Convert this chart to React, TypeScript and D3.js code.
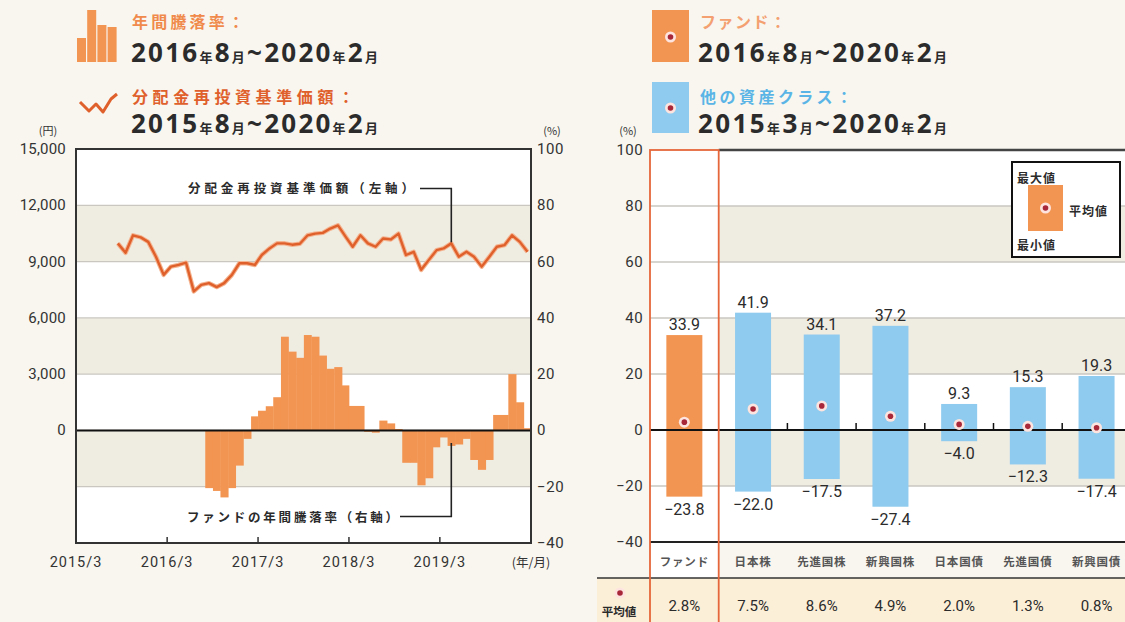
import React, { useRef, useEffect } from 'react';
import * as d3 from 'd3';

const W = 1125;
const H = 622;

// 分配金再投資基準価額（円）2015年8月〜2020年2月 月次
const navValues = [
  9970, 9470, 10400, 10290, 10050, 9260, 8290, 8730, 8820, 8940,
  7410, 7760, 7850, 7640, 7850, 8290, 8910, 8910, 8820, 9350,
  9700, 9970, 9970, 9900, 9950, 10400, 10490, 10530, 10760, 10930,
  10320, 9790, 10400, 9970, 9790, 10230, 10180, 10490, 9350, 9520,
  8560, 9090, 9610, 9700, 9970, 9260, 9520, 9260, 8730, 9260,
  9790, 9880, 10400, 10050, 9520,
];

// ファンドの年間騰落率（%）2016年8月〜2020年2月
const fundReturns = [
  -20.5, -21.5, -23.8, -20.5, -12.5, -3, 5, 7, 8.6, 11.8,
  33.3, 28, 25.8, 33.9, 33.3, 26.6, 21.9, 22.5, 16, 8.7,
  8.7, -0.5, -0.8, 3.5, 2.5, 0.5, -11.5, -11.5, -19.5, -17,
  -6, -2.5, -5.5, -5, -3, -10.5, -14, -10.5, 5.5, 5.5,
  20, 10, 0.8,
];

const leftYTicks = [0, 3000, 6000, 9000, 12000, 15000];
const pctTicks = [-40, -20, 0, 20, 40, 60, 80, 100];
const xTickYears = [2015, 2016, 2017, 2018, 2019];

// 他の資産クラスとの騰落率の比較
const categories = ['ファンド', '日本株', '先進国株', '新興国株', '日本国債', '先進国債', '新興国債'];
const maxValues = [33.9, 41.9, 34.1, 37.2, 9.3, 15.3, 19.3];
const minValues = [-23.8, -22.0, -17.5, -27.4, -4.0, -12.3, -17.4];
const meanValues = [2.8, 7.5, 8.6, 4.9, 2.0, 1.3, 0.8];

const JP = "'Noto Sans CJK JP', 'Noto Sans', sans-serif";
const NUM = "Roboto, 'Noto Sans', sans-serif";
const BG = '#f8f6ef';
const BAND = '#efece2';
const GRID = '#c9c7c0';
const DARK = '#2b2b2b';
const ORANGE = '#f39552';
const BLUE = '#8fcbee';
const LINE = '#e0602c';

const fmtPct = (v: number) => (v < 0 ? '−' : '') + d3.format('.1f')(Math.abs(v));
const fmtTick = (v: number) => (v < 0 ? '−' : '') + Math.abs(v);
// 網掛けする帯（下端の目盛が 20 の奇数倍のもの）
const shaded = pctTicks.filter(t => t < 100 && Math.abs(t / 20) % 2 === 1);

// 「2016年8月~2020年2月」のような期間表記
function period(g: any, x: number, y: number, p: string[], width: number) {
  const t = g.append('text').attr('x', x).attr('y', y)
    .attr('fill', DARK).attr('font-weight', 700)
    .attr('textLength', width).attr('lengthAdjust', 'spacing');
  const parts: [string, boolean][] = [
    [p[0], true], ['年', false], [p[1], true], ['月', false], ['~', true],
    [p[2], true], ['年', false], [p[3], true], ['月', false],
  ];
  parts.forEach(([s, big]) => {
    t.append('tspan').text(s)
      .attr('font-family', big ? "'Noto Sans', sans-serif" : JP)
      .attr('font-size', big ? 26 : 13);
  });
}

function marker(g: any, cx: number, cy: number) {
  g.append('circle').attr('cx', cx).attr('cy', cy).attr('r', 5.5).attr('fill', '#fde4df');
  g.append('circle').attr('cx', cx).attr('cy', cy).attr('r', 2.8).attr('fill', '#a8283a');
}

export default function App() {
  const ref = useRef<SVGSVGElement>(null);

  useEffect(() => {
    const svg = d3.select(ref.current);
    svg.selectAll('*').remove();
    svg.append('rect').attr('width', W).attr('height', H).attr('fill', BG);

    // ---------------- 左：基準価額と年間騰落率 ----------------
    const L = { left: 76, right: 531, top: 149, bottom: 543 };
    const x = d3.scaleTime()
      .domain([new Date(2015, 2, 1), new Date(2020, 2, 1)])
      .range([L.left, L.right]);
    const yL = d3.scaleLinear().domain([-6000, 15000]).range([L.bottom, L.top]);
    const yR = d3.scaleLinear().domain([-40, 100]).range([L.bottom, L.top]);
    const navDates = d3.timeMonth.range(new Date(2015, 7, 1), new Date(2020, 2, 1));
    const fundDates = d3.timeMonth.range(new Date(2016, 7, 1), new Date(2020, 2, 1));
    const mid = (d: Date) => x(d3.timeDay.offset(d, 15));

    const left = svg.append('g');
    left.append('rect').attr('x', L.left).attr('y', L.top)
      .attr('width', L.right - L.left).attr('height', L.bottom - L.top).attr('fill', '#fff');
    shaded.forEach(t => {
      left.append('rect').attr('x', L.left).attr('width', L.right - L.left)
        .attr('y', yR(t + 20)).attr('height', yR(t) - yR(t + 20)).attr('fill', BAND);
    });
    pctTicks.slice(1, -1).forEach(t => {
      left.append('line').attr('x1', L.left).attr('x2', L.right)
        .attr('y1', yR(t)).attr('y2', yR(t)).attr('stroke', GRID).attr('stroke-width', 1.3);
    });

    // 年間騰落率（右軸）
    left.selectAll('rect.bar').data(fundReturns).enter().append('rect')
      .attr('class', 'bar')
      .attr('x', (d, i) => x(fundDates[i]))
      .attr('width', (d, i) => x(d3.timeMonth.offset(fundDates[i], 1)) - x(fundDates[i]) + 0.4)
      .attr('y', d => yR(Math.max(0, d)))
      .attr('height', d => Math.abs(yR(d) - yR(0)))
      .attr('fill', ORANGE);

    left.append('line').attr('x1', L.left).attr('x2', L.right)
      .attr('y1', yR(0)).attr('y2', yR(0)).attr('stroke', '#111').attr('stroke-width', 2);

    // 分配金再投資基準価額（左軸）
    const navLine = d3.line<number>().x((d, i) => mid(navDates[i])).y(d => yL(d));
    left.append('path').attr('d', navLine(navValues)).attr('fill', 'none')
      .attr('stroke', '#f4b490').attr('stroke-width', 4.5).attr('stroke-linejoin', 'round');
    left.append('path').attr('d', navLine(navValues)).attr('fill', 'none')
      .attr('stroke', LINE).attr('stroke-width', 2.4).attr('stroke-linejoin', 'round');

    // frame
    left.append('rect').attr('x', L.left).attr('y', L.top)
      .attr('width', L.right - L.left).attr('height', L.bottom - L.top)
      .attr('fill', 'none').attr('stroke', '#333').attr('stroke-width', 2);

    leftYTicks.forEach(t => {
      left.append('text').attr('x', 66).attr('y', yL(t) + 5).attr('text-anchor', 'end')
        .attr('font-family', NUM).attr('font-size', 15).attr('fill', '#333')
        .attr('letter-spacing', 0.2).text(d3.format(',')(t));
    });
    pctTicks.forEach(t => {
      left.append('text').attr('x', 537).attr('y', yR(t) + 5)
        .attr('font-family', NUM).attr('font-size', 15).attr('fill', '#333')
        .attr('letter-spacing', 0.6).text(fmtTick(t));
    });
    xTickYears.forEach(yr => {
      const xx = x(new Date(yr, 2, 1));
      if (yr > 2015) {
        left.append('line').attr('x1', xx).attr('x2', xx).attr('y1', L.bottom).attr('y2', L.bottom - 6)
          .attr('stroke', '#333').attr('stroke-width', 1.5);
      }
      left.append('text').attr('x', xx).attr('y', 567).attr('text-anchor', 'middle')
        .attr('font-family', NUM).attr('font-size', 14.5).attr('fill', '#333')
        .attr('letter-spacing', 1).text(`${yr}/3`);
    });
    left.append('text').attr('x', x(new Date(2020, 2, 1))).attr('y', 567).attr('text-anchor', 'middle')
      .attr('font-family', JP).attr('font-size', 12.5).attr('fill', '#333').text('(年/月)');
    left.append('text').attr('x', 48).attr('y', 135).attr('text-anchor', 'middle')
      .attr('font-family', JP).attr('font-size', 11).attr('fill', '#333').text('(円)');
    left.append('text').attr('x', 552).attr('y', 135).attr('text-anchor', 'middle')
      .attr('font-family', JP).attr('font-size', 11).attr('fill', '#333').text('(%)');

    // 注記と引き出し線
    const leadIdx = 44;
    const leadX = mid(navDates[leadIdx]);
    const barIdx = fundDates.findIndex(d => +d === +navDates[leadIdx]);
    left.append('text').attr('x', 188).attr('y', 193)
      .attr('font-family', JP).attr('font-size', 12.5).attr('font-weight', 700).attr('fill', DARK)
      .attr('textLength', 226).attr('lengthAdjust', 'spacing').text('分配金再投資基準価額（左軸）');
    left.append('path').attr('d', `M420,188.5H${leadX}V${yL(navValues[leadIdx]) - 1}`)
      .attr('fill', 'none').attr('stroke', '#222').attr('stroke-width', 1.6);
    left.append('text').attr('x', 187).attr('y', 522)
      .attr('font-family', JP).attr('font-size', 12.5).attr('font-weight', 700).attr('fill', DARK)
      .attr('textLength', 211).attr('lengthAdjust', 'spacing').text('ファンドの年間騰落率（右軸）');
    left.append('path').attr('d', `M400,516.5H${leadX}V${yR(fundReturns[barIdx]) - 3}`)
      .attr('fill', 'none').attr('stroke', '#222').attr('stroke-width', 1.6);

    // 凡例（左）
    const iconBars = [24, 52, 37, 35];
    iconBars.forEach((h, i) => {
      left.append('rect').attr('x', 77 + i * 10.2).attr('y', 62 - h).attr('width', 9)
        .attr('height', h).attr('fill', ORANGE);
    });
    left.append('text').attr('x', 132).attr('y', 28)
      .attr('font-family', JP).attr('font-size', 16).attr('font-weight', 700).attr('fill', '#f08a4c')
      .attr('textLength', 112).attr('lengthAdjust', 'spacing').text('年間騰落率：');
    period(left, 131, 62, ['2016', '8', '2020', '2'], 247);
    const iconLine = [[0, 8], [9, 17], [16, 10], [23, 18], [31, 5], [37, 0]];
    left.append('path').attr('d', d3.line()(iconLine.map(([a, b]) => [80 + a, 94 + b]) as any))
      .attr('fill', 'none').attr('stroke', LINE).attr('stroke-width', 3).attr('stroke-linejoin', 'round');
    left.append('text').attr('x', 132).attr('y', 103)
      .attr('font-family', JP).attr('font-size', 16).attr('font-weight', 700).attr('fill', LINE)
      .attr('textLength', 222).attr('lengthAdjust', 'spacing').text('分配金再投資基準価額：');
    period(left, 131, 133, ['2015', '8', '2020', '2'], 247);

    // ---------------- 右：他の資産クラスとの比較 ----------------
    const R = { left: 650, top: 150, bottom: 542, table: 578 };
    const xb = d3.scaleBand().domain(categories).range([R.left, R.left + 7 * 68.7]);
    const yB = d3.scaleLinear().domain([-40, 100]).range([R.bottom, R.top]);
    const bw = 36;
    const right = svg.append('g');

    right.append('rect').attr('x', R.left).attr('y', R.top).attr('width', W - R.left)
      .attr('height', R.bottom - R.top).attr('fill', '#fff');
    shaded.forEach(t => {
      right.append('rect').attr('x', R.left).attr('width', W - R.left)
        .attr('y', yB(t + 20)).attr('height', yB(t) - yB(t + 20)).attr('fill', BAND);
    });
    right.append('rect').attr('x', R.left).attr('y', R.top).attr('width', xb.step())
      .attr('height', R.table - R.top).attr('fill', '#fff');
    right.append('rect').attr('x', 597).attr('y', R.table).attr('width', W - 597)
      .attr('height', H - R.table).attr('fill', '#fcefd8');
    pctTicks.slice(1, -1).forEach(t => {
      right.append('line').attr('x1', R.left).attr('x2', W)
        .attr('y1', yB(t)).attr('y2', yB(t)).attr('stroke', GRID).attr('stroke-width', 1.3);
    });
    right.append('line').attr('x1', R.left + xb.step()).attr('x2', W)
      .attr('y1', R.top).attr('y2', R.top).attr('stroke', '#444').attr('stroke-width', 2.5);

    categories.forEach((c, i) => {
      const cx = (xb(c) as number) + xb.bandwidth() / 2;
      right.append('rect').attr('x', cx - bw / 2).attr('y', yB(maxValues[i]))
        .attr('width', bw).attr('height', yB(minValues[i]) - yB(maxValues[i]))
        .attr('fill', i === 0 ? ORANGE : BLUE);
    });
    right.append('line').attr('x1', R.left).attr('x2', W)
      .attr('y1', yB(0)).attr('y2', yB(0)).attr('stroke', '#111').attr('stroke-width', 2);
    categories.slice(2).forEach(c => {
      const xx = xb(c) as number;
      right.append('line').attr('x1', xx).attr('x2', xx).attr('y1', yB(0)).attr('y2', yB(0) - 7)
        .attr('stroke', '#111').attr('stroke-width', 1.5);
    });
    right.append('line').attr('x1', R.left).attr('x2', W)
      .attr('y1', R.bottom).attr('y2', R.bottom).attr('stroke', '#222').attr('stroke-width', 2);
    right.append('line').attr('x1', 597).attr('x2', W)
      .attr('y1', R.table).attr('y2', R.table).attr('stroke', '#333').attr('stroke-width', 1.5);

    categories.forEach((c, i) => {
      const cx = (xb(c) as number) + xb.bandwidth() / 2;
      marker(right, cx, yB(meanValues[i]));
      right.append('text').attr('x', cx).attr('y', yB(maxValues[i]) - 5).attr('text-anchor', 'middle')
        .attr('font-family', NUM).attr('font-size', 16).attr('fill', DARK).text(fmtPct(maxValues[i]));
      right.append('text').attr('x', cx).attr('y', yB(minValues[i]) + 18).attr('text-anchor', 'middle')
        .attr('font-family', NUM).attr('font-size', 16).attr('fill', DARK).text(fmtPct(minValues[i]));
      right.append('text').attr('x', cx).attr('y', 566).attr('text-anchor', 'middle')
        .attr('font-family', JP).attr('font-size', 11.5).attr('font-weight', 700).attr('fill', '#555')
        .attr('letter-spacing', 0.8).text(c);
      right.append('text').attr('x', cx).attr('y', 611).attr('text-anchor', 'middle')
        .attr('font-family', NUM).attr('font-size', 15).attr('fill', DARK)
        .text(d3.format('.1f')(meanValues[i]) + '%');
    });

    pctTicks.forEach(t => {
      right.append('text').attr('x', 643).attr('y', yB(t) + 5).attr('text-anchor', 'end')
        .attr('font-family', NUM).attr('font-size', 15).attr('fill', '#333')
        .attr('letter-spacing', 0.4).text(fmtTick(t));
    });
    right.append('text').attr('x', 628).attr('y', 135).attr('text-anchor', 'middle')
      .attr('font-family', JP).attr('font-size', 11).attr('fill', '#333').text('(%)');

    // ファンド列の枠
    right.append('rect').attr('x', R.left).attr('y', R.top).attr('width', xb.step())
      .attr('height', H - R.top + 4).attr('fill', 'none').attr('stroke', '#e5663a').attr('stroke-width', 1.8);

    // 平均値の見出し
    marker(right, 620, 593);
    right.append('text').attr('x', 619).attr('y', 616).attr('text-anchor', 'middle')
      .attr('font-family', JP).attr('font-size', 11.5).attr('font-weight', 700).attr('fill', DARK).text('平均値');

    // 凡例ボックス
    right.append('rect').attr('x', 1012).attr('y', 162).attr('width', 108).attr('height', 95)
      .attr('fill', '#fff').attr('stroke', '#111').attr('stroke-width', 2);
    right.append('rect').attr('x', 1028).attr('y', 185).attr('width', 35).attr('height', 46).attr('fill', ORANGE);
    marker(right, 1045.5, 208);
    [['最大値', 1017, 183], ['最小値', 1017, 250], ['平均値', 1069, 216]].forEach(([s, xx, yy]) => {
      right.append('text').attr('x', xx).attr('y', yy)
        .attr('font-family', JP).attr('font-size', 12).attr('font-weight', 700).attr('fill', DARK)
        .attr('letter-spacing', 1).text(s as string);
    });

    // 凡例（右上）
    right.append('rect').attr('x', 652).attr('y', 10).attr('width', 37).attr('height', 52).attr('fill', ORANGE);
    marker(right, 670.5, 37);
    right.append('text').attr('x', 700).attr('y', 28)
      .attr('font-family', JP).attr('font-size', 16).attr('font-weight', 700).attr('fill', '#f4a070')
      .attr('textLength', 86).attr('lengthAdjust', 'spacing').text('ファンド：');
    period(right, 698, 62, ['2016', '8', '2020', '2'], 249);
    right.append('rect').attr('x', 652).attr('y', 82).attr('width', 37).attr('height', 51).attr('fill', BLUE);
    marker(right, 670.5, 108);
    right.append('text').attr('x', 700).attr('y', 103)
      .attr('font-family', JP).attr('font-size', 16).attr('font-weight', 700).attr('fill', '#5ab5e6')
      .attr('textLength', 152).attr('lengthAdjust', 'spacing').text('他の資産クラス：');
    period(right, 698, 133, ['2015', '3', '2020', '2'], 249);
  }, []);

  return (
    <>
      <style>{'body{margin:0;background:' + BG + '}'}</style>
      <svg ref={ref} width={W} height={H} style={{ display: 'block' }} />
    </>
  );
}
